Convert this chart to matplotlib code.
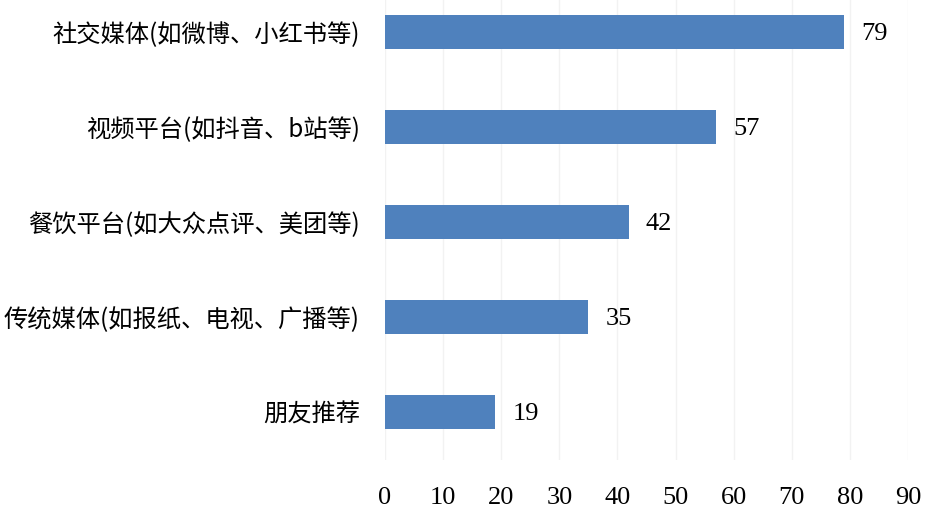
import matplotlib.pyplot as plt

categories = ['社交媒体(如微博、小红书等)', '视频平台(如抖音、b站等)', '餐饮平台(如大众点评、美团等)',
              '传统媒体(如报纸、电视、广播等)', '朋友推荐']
values = [79, 57, 42, 35, 19]
xticks = [0, 10, 20, 30, 40, 50, 60, 70, 80, 90]

fig = plt.figure(figsize=(9.44, 5.21), dpi=100)
ax = fig.add_axes([385 / 944, 1 - 459.5 / 521, 523 / 944, 475 / 521])

pos = list(range(len(categories)))
ax.barh(pos, values, height=0.36, color='#4F81BD', zorder=3)
ax.set_ylim(len(categories) - 0.5, -0.5)
ax.set_xlim(0, 90)
ax.set_xticks(xticks)
ax.set_xticklabels([str(t) for t in xticks], family='Liberation Serif', fontsize=19)
ax.set_yticks(pos)
ax.set_yticklabels(categories, family=['Noto Sans CJK SC', 'DejaVu Sans'], fontsize=17.5)
ax.tick_params(axis='both', length=0)
ax.tick_params(axis='y', pad=18)
ax.tick_params(axis='x', pad=20)
ax.grid(axis='x', color='#F2F2F2', linewidth=1, zorder=0)
for s in ax.spines.values():
    s.set_visible(False)

for p, v in zip(pos, values):
    ax.text(v + 2.9, p + 0.02, str(v), va='center', ha='left', family='Liberation Serif', fontsize=19)

fig.savefig('out.png', dpi=100)
